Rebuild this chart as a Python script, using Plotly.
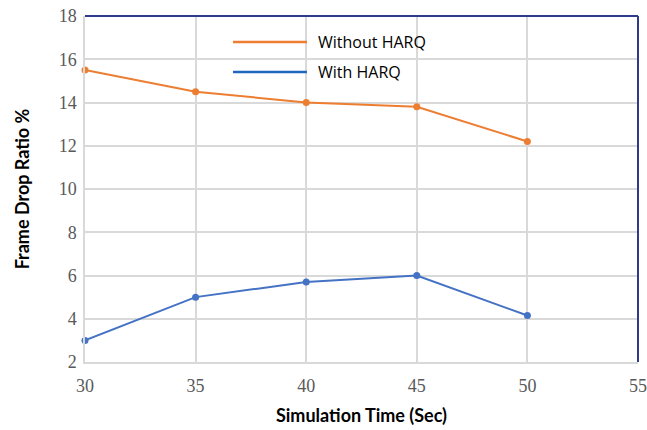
import plotly.graph_objects as go

# Simulation time (s) and frame drop ratio (%) for each scheme
sim_time = [30, 35, 40, 45, 50]
drop_without_harq = [15.5, 14.5, 14.0, 13.8, 12.2]
drop_with_harq = [3.0, 5.0, 5.7, 6.0, 4.15]

series_names = ["Without HARQ", "With HARQ"]
series_colors = ["#ED7D31", "#4472C4"]
legend_colors = ["#ED7D31", "#1F67C0"]

x_ticks = [30, 35, 40, 45, 50, 55]
y_ticks = [2, 4, 6, 8, 10, 12, 14, 16, 18]


def serif_label(v):
    return f"<span style='font-family:Liberation Serif'>{v}</span>"


fig = go.Figure()
for name, ys, col in zip(series_names, [drop_without_harq, drop_with_harq], series_colors):
    fig.add_trace(go.Scatter(
        x=sim_time, y=ys, name=name, mode="lines+markers",
        line=dict(color=col, width=2),
        marker=dict(color=col, size=7),
        showlegend=False, cliponaxis=False,
    ))

tick_font = dict(family="Liberation Serif", size=18, color="#595959")
title_font = dict(family="Lato", size=18, color="#000000")

fig.update_layout(
    width=647, height=430,
    margin=dict(l=85, r=9, t=16, b=68),
    plot_bgcolor="white", paper_bgcolor="white",
    font=tick_font,
    xaxis=dict(
        range=[30, 55], tickmode="array", tickvals=x_ticks,
        ticktext=[serif_label(v) for v in x_ticks], showgrid=True,
        gridcolor="#D9D9D9", gridwidth=1.5,
        zeroline=False, showline=True, linecolor="#D9D9D9", linewidth=1.5,
        tickfont=tick_font, ticks="outside", ticklen=7, tickcolor="rgba(0,0,0,0)",
        automargin=False,
        title=dict(text="<b>Simulation Time (Sec)</b>", font=title_font, standoff=14),
    ),
    yaxis=dict(
        range=[2, 18], tickmode="array", tickvals=y_ticks,
        ticktext=[serif_label(v) for v in y_ticks], showgrid=True,
        gridcolor="#D9D9D9", gridwidth=1.5,
        zeroline=False, showline=True, linecolor="#D9D9D9", linewidth=1.5,
        tickfont=tick_font, ticks="outside", ticklen=3, tickcolor="rgba(0,0,0,0)",
        automargin=False,
        title=dict(text="<b>Frame Drop Ratio %</b>", font=title_font, standoff=24),
    ),
)

# Top and right frame edges in dark blue
fig.add_shape(type="line", xref="paper", yref="paper", x0=0, x1=1, y0=1, y1=1,
              line=dict(color="#2E3A8C", width=2))
fig.add_shape(type="line", xref="paper", yref="paper", x0=1, x1=1, y0=0, y1=1,
              line=dict(color="#2E3A8C", width=2))

# Legend drawn as line samples with labels
legend_y = [0.9249, 0.8382]
for name, col, ly in zip(series_names, legend_colors, legend_y):
    fig.add_shape(type="line", xref="paper", yref="paper", x0=0.2676, x1=0.4014,
                  y0=ly, y1=ly, line=dict(color=col, width=2.5))
    fig.add_annotation(xref="paper", yref="paper", x=0.4177, y=ly, text=name,
                       showarrow=False, xanchor="left", yanchor="middle",
                       font=dict(family="Open Sans", size=16, color="#000000"))

fig.write_html("out.html")
